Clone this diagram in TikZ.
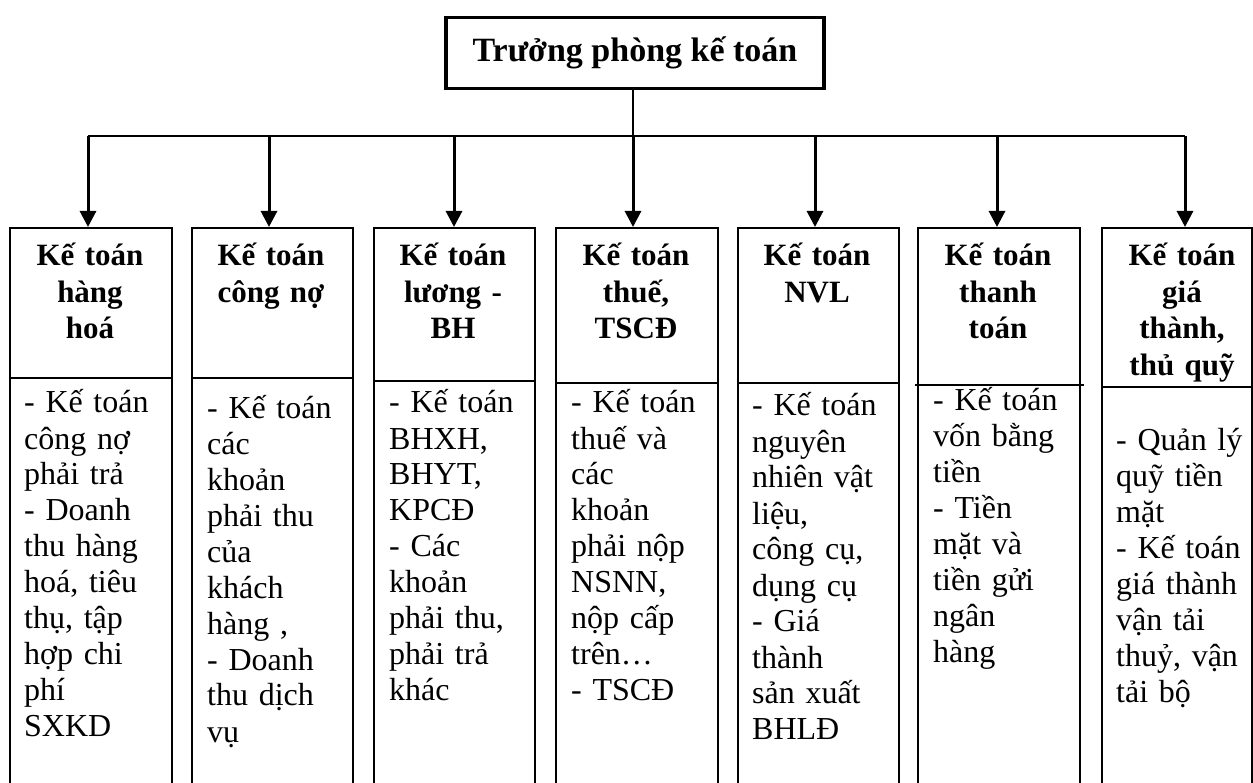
\documentclass[tikz,border=0pt]{standalone}
\usepackage{fontspec}
\setmainfont{Liberation Serif}
\usetikzlibrary{arrows.meta}

\begin{document}
\begin{tikzpicture}[x=1pt,y=-1pt,
  headbox/.style={draw, line width=3.4pt, inner sep=0pt, minimum width=378pt, minimum height=71pt,
    font=\fontsize{34}{40}\selectfont\bfseries},
  colbox/.style={draw, line width=1.8pt, inner sep=0pt, minimum height=620pt, anchor=north west},
  ttl/.style={font=\fontsize{31}{36.5}\selectfont\bfseries, text width=160pt, align=center,
    inner sep=0pt, anchor=base},
  body/.style={font=\fontsize{32}{36}\selectfont, text width=150pt, align=left,
    inner sep=0pt, anchor=base west},
  sepline/.style={line width=1.8pt},
  busline/.style={line width=1.8pt},
  drop/.style={line width=3pt, -{Triangle[length=16pt,width=16pt]}},
]
\useasboundingbox (0,0) rectangle (1253,783);
\clip (0,0) rectangle (1253,783);

% head of the department
\node[headbox] (head) at (635,53) {Trưởng phòng kế toán};

% the seven sections, open at the bottom
\node[colbox, minimum width=162pt] (col1) at (9,227)   {};
\node[colbox, minimum width=161pt] (col2) at (191,227) {};
\node[colbox, minimum width=161pt] (col3) at (373,227) {};
\node[colbox, minimum width=162pt] (col4) at (555,227) {};
\node[colbox, minimum width=161pt] (col5) at (737,227) {};
\node[colbox, minimum width=162pt] (col6) at (917,227) {};
\node[colbox, minimum width=150pt] (col7) at (1101,227) {};

% rules between title and duties
\draw[sepline] (col1.west |- 0,378) -- (col1.east |- 0,378);
\draw[sepline] (col2.west |- 0,378) -- (col2.east |- 0,378);
\draw[sepline] (col3.west |- 0,381) -- (col3.east |- 0,381);
\draw[sepline] (col4.west |- 0,383) -- (col4.east |- 0,383);
\draw[sepline] (col5.west |- 0,383) -- (col5.east |- 0,383);
\draw[sepline] ([xshift=-2pt]col6.west |- 0,385) -- ([xshift=3pt]col6.east |- 0,385);
\draw[sepline] (col7.west |- 0,387) -- (col7.east |- 0,387);

% distribution bus
\coordinate (d1) at (88,136);
\coordinate (d2) at (269,136);
\coordinate (d3) at (454,136);
\coordinate (d4) at (633,136);
\coordinate (d5) at (815,136);
\coordinate (d6) at (997,136);
\coordinate (d7) at (1185,136);

\draw[busline] (head.south -| d4) -- (d4);
\draw[busline] (d1) -- (d7);
\foreach \i in {1,...,7} {
  \draw[drop] (d\i) -- (d\i |- col\i.north);
}

% section titles
\node[ttl] (t1) at (90,266)    {Kế toán\\hàng\\hoá};
\node[ttl] (t2) at (271,266)   {Kế toán\\công nợ};
\node[ttl] (t3) at (453,266)   {Kế toán\\lương -\\BH};
\node[ttl] (t4) at (636,266)   {Kế toán\\thuế,\\TSCĐ};
\node[ttl] (t5) at (817,266)   {Kế toán\\NVL};
\node[ttl] (t6) at (998,266)   {Kế toán\\thanh\\toán};
\node[ttl] (t7) at (1182,266)  {Kế toán\\giá\\thành,\\thủ quỹ};

% duties
\node[body] (b1) at (24,413)   {- Kế toán\\công nợ\\phải trả\\- Doanh\\thu hàng\\hoá, tiêu\\thụ, tập\\hợp chi\\phí\\SXKD};
\node[body] (b2) at (207,418)  {- Kế toán\\các\\khoản\\phải thu\\của\\khách\\hàng ,\\- Doanh\\thu dịch\\vụ};
\node[body] (b3) at (389,413)  {- Kế toán\\BHXH,\\BHYT,\\KPCĐ\\- Các\\khoản\\phải thu,\\phải trả\\khác};
\node[body] (b4) at (571,413)  {- Kế toán\\thuế và\\các\\khoản\\phải nộp\\NSNN,\\nộp cấp\\trên…\\- TSCĐ};
\node[body] (b5) at (752,416)  {- Kế toán\\nguyên\\nhiên vật\\liệu,\\công cụ,\\dụng cụ\\- Giá\\thành\\sản xuất\\BHLĐ};
\node[body] (b6) at (933,410)  {- Kế toán\\vốn bằng\\tiền\\- Tiền\\mặt và\\tiền gửi\\ngân\\hàng};
\node[body] (b7) at (1116,450) {- Quản lý\\quỹ tiền\\mặt\\- Kế toán\\giá thành\\vận tải\\thuỷ, vận\\tải bộ};
\end{tikzpicture}
\end{document}
